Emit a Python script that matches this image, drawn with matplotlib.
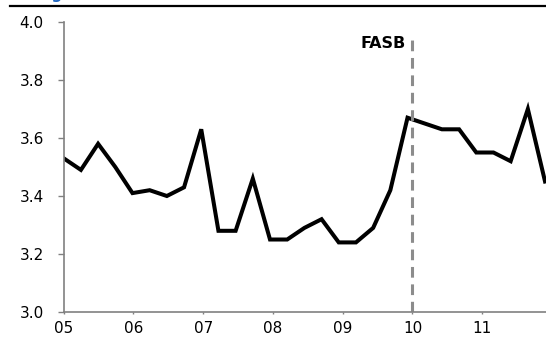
import matplotlib
matplotlib.use("Agg")
import matplotlib.pyplot as plt
import matplotlib.dates as mdates
from matplotlib.lines import Line2D
import pandas as pd

# Data
dates = pd.date_range("2005-01-01", periods=29, freq="90D")
values = [3.53, 3.49, 3.58, 3.50, 3.41, 3.42, 3.40, 3.43, 3.63, 3.28,
          3.28, 3.46, 3.25, 3.25, 3.29, 3.32, 3.24, 3.24, 3.29, 3.42,
          3.67, 3.65, 3.63, 3.63, 3.55, 3.55, 3.52, 3.70, 3.45]
year_ticks = pd.to_datetime([f"{y}-01-01" for y in range(2005, 2012)])
year_labels = ["05", "06", "07", "08", "09", "10", "11"]
y_ticks = [3.0, 3.2, 3.4, 3.6, 3.8, 4.0]
event_date = pd.Timestamp("2010-01-01")
event_label = "FASB"

plt.rcParams["font.family"] = ["DejaVu Sans"]

fig = plt.figure(figsize=(5.46, 3.41), dpi=100)
ax = fig.add_axes([0.1167, 0.085, 0.8833, 0.8505])

ax.plot(dates, values, color="black", lw=2.9, solid_joinstyle="miter", clip_on=True)

ax.axvline(event_date, ymin=0, ymax=0.957, color="#8c8c8c", lw=2.2,
           dashes=(3.5, 2.2))
ax.text(mdates.date2num(event_date) - 37, 3.925, event_label, ha="right", va="center",
        fontsize=11.5, fontweight="bold", color="black")

ax.set_ylim(3.0, 4.0)
ax.set_xlim(pd.Timestamp("2005-01-01"), pd.Timestamp("2011-12-01"))
ax.set_yticks(y_ticks)
ax.set_yticklabels([f"{v:.1f}" for v in y_ticks])
ax.set_xticks(year_ticks)
ax.set_xticklabels(year_labels)

for s in ["top", "right"]:
    ax.spines[s].set_visible(False)
for s in ["left", "bottom"]:
    ax.spines[s].set_color("#808080")
    ax.spines[s].set_linewidth(1.2)

ax.tick_params(axis="y", direction="out", length=4.3, width=1.0, color="#808080",
               pad=10, labelsize=11, labelcolor="black")
ax.tick_params(axis="x", direction="out", length=1.5, width=1.0, color="#808080",
               pad=5, labelsize=11, labelcolor="black")

# Top rule and clipped title
fig.add_artist(Line2D([10 / 546, 1.0], [1 - 6.3 / 341, 1 - 6.3 / 341],
                      transform=fig.transFigure, color="black", lw=1.6))
fig.text(37 / 546, 1.002, "Figure", color="#1f66c1", fontsize=11,
         fontweight="bold", va="baseline", ha="left")

fig.savefig("out.png", dpi=100)
